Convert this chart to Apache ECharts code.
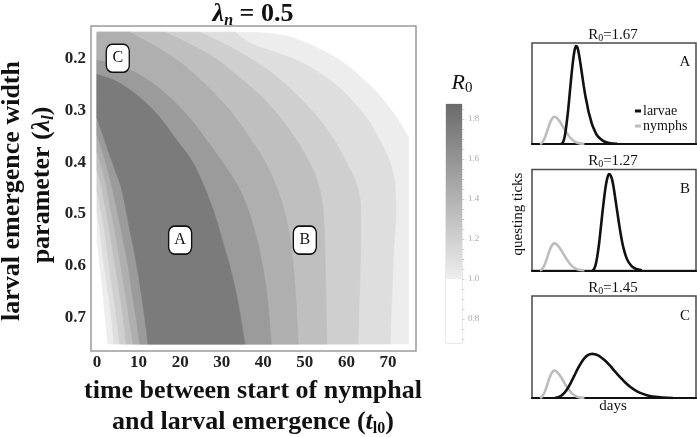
<!DOCTYPE html>
<html><head><meta charset="utf-8">
<script src="https://cdn.jsdelivr.net/npm/echarts@6/dist/echarts.min.js"></script>
<style>html,body{margin:0;padding:0;background:#fff}#c{width:697px;height:437px}</style>
</head><body><div id="c"></div>
<script>
// ---------------- data ----------------
const xTickValues = [0, 10, 20, 30, 40, 50, 60, 70];
const yTickValues = [0.2, 0.3, 0.4, 0.5, 0.6, 0.7];
const contourLevels = [1.0, 1.1, 1.2, 1.3, 1.4, 1.5, 1.6];
// contour boundaries: [t_l0, lambda_l]
const right10 = [[38.5,0.15],[46.9,0.16],[57.3,0.198],[65.4,0.25],[71.0,0.302],[75,0.352]];
const left10  = [[0,0.55],[0.5,0.588],[1.2,0.637],[1.9,0.694],[2.6,0.75]];
const right11 = [[33.2,0.15],[37.3,0.173],[42.8,0.188],[48.6,0.206],[53.6,0.229],[58.2,0.256],[62.1,0.288],[65.4,0.321],[67.6,0.352],[69.5,0.381],[71.0,0.415],[71.7,0.446],[71.9,0.502],[71.4,0.569],[71.0,0.646],[70.5,0.75]];
const left11  = [[0,0.496],[0.7,0.531],[1.4,0.579],[2.4,0.637],[3.4,0.694],[4.1,0.75]];
const right12 = [[24.8,0.15],[30.8,0.173],[36.8,0.2],[42.8,0.233],[48.1,0.271],[52.7,0.31],[56.8,0.354],[59.7,0.396],[62.1,0.435],[63.3,0.473],[63.5,0.531],[63.3,0.608],[63.0,0.685],[62.8,0.75]];
const left12  = [[0,0.454],[0.7,0.483],[1.7,0.527],[2.6,0.579],[3.6,0.637],[4.6,0.694],[5.5,0.75]];
const right13 = [[16.4,0.15],[22.4,0.173],[28.4,0.2],[34.4,0.238],[40.5,0.281],[45.5,0.329],[49.5,0.377],[52.5,0.425],[54.1,0.473],[54.6,0.521],[54.9,0.588],[55.1,0.665],[55.3,0.75]];
const left13  = [[0,0.415],[1.0,0.444],[1.9,0.483],[2.9,0.527],[4.1,0.585],[5.3,0.646],[6.3,0.70],[7.0,0.75]];
const right14 = [[7.9,0.15],[14.0,0.177],[20.0,0.208],[26.0,0.25],[31.5,0.296],[36.3,0.348],[40.2,0.396],[43.0,0.444],[45.0,0.492],[46.5,0.55],[47.4,0.617],[48.0,0.685],[48.4,0.75]];
const left14  = [[0,0.381],[1.0,0.406],[2.2,0.444],[3.1,0.483],[4.3,0.531],[5.5,0.588],[6.7,0.646],[7.7,0.70],[8.7,0.75]];
const right15 = [[0,0.204],[4.3,0.212],[9.1,0.227],[14.0,0.252],[18.8,0.285],[23.1,0.323],[27.2,0.367],[31.2,0.412],[34.4,0.454],[36.8,0.502],[38.8,0.56],[40.4,0.627],[41.3,0.688],[41.9,0.75]];
const left15  = [[0,0.348],[1.2,0.377],[2.6,0.415],[3.8,0.454],[5.1,0.502],[6.3,0.55],[7.5,0.60],[8.4,0.65],[9.4,0.70],[10.3,0.75]];
const right16 = [[0,0.231],[5.5,0.248],[11.1,0.281],[15.2,0.315],[19.2,0.358],[22.4,0.392],[24.8,0.429],[26.7,0.465],[28.6,0.508],[30.5,0.56],[32.0,0.602],[33.8,0.665],[35.6,0.75]];
const left16  = [[0,0.315],[1.4,0.348],[3.1,0.387],[4.8,0.425],[6.0,0.454],[7.2,0.502],[8.4,0.55],[9.6,0.60],[10.6,0.65],[11.5,0.70],[12.3,0.75]];
const tRange = [0, 75];
const lambdaRange = [0.15, 0.75];

const boxT = [20, 50, 5];
const boxLambda = [0.55, 0.55, 0.2];
const boxLabels = ['A', 'B', 'C'];

const cbRange = [0.68, 1.875];
const cbThreshold = 1.0;
const cbTicks = [0.8, 1.0, 1.2, 1.4, 1.6, 1.8];
const cbMinorTicks = [0.7,0.75,0.8,0.85,0.9,0.95,1.0,1.05,1.1,1.15,1.2,1.25,1.3,1.35,1.4,1.45,1.5,1.55,1.6,1.65,1.7,1.75,1.8,1.85];

const panelR0 = [1.67, 1.27, 1.45];
const panelLetters = ['A', 'B', 'C'];
const nymphs  = [[4.9,0],[6,0.012],[7,0.035],[8,0.07],[9,0.115],[10,0.165],[11,0.21],[12,0.245],[13,0.265],[13.6,0.27],[14.5,0.266],[15.5,0.252],[16.5,0.232],[17.5,0.208],[18.5,0.182],[19.5,0.155],[20.5,0.128],[21.5,0.103],[22.5,0.08],[23.5,0.06],[24.5,0.043],[25.5,0.03],[27,0.016],[29,0.006],[32,0.001]];
const larvaeA = [[18,0],[19,0.02],[20,0.08],[21,0.19],[22,0.33],[23,0.5],[24,0.67],[25,0.82],[26,0.93],[26.8,0.97],[27.6,0.96],[28.5,0.9],[29.5,0.8],[30.5,0.69],[31.5,0.58],[32.5,0.48],[33.5,0.4],[34.5,0.32],[35.5,0.26],[36.5,0.2],[38,0.14],[39.5,0.09],[41.5,0.055],[44,0.025],[47,0.01],[52,0.002]];
const larvaeB = [[37,0],[38,0.02],[39,0.07],[40,0.16],[41,0.28],[42,0.43],[43,0.58],[44,0.72],[45,0.84],[46,0.92],[47,0.955],[48,0.94],[49,0.89],[50,0.8],[51,0.69],[52,0.58],[53,0.47],[54,0.37],[55,0.28],[56,0.21],[57.5,0.13],[59,0.08],[61,0.04],[63.5,0.015],[67,0.003]];
const larvaeC = [[14,0],[16,0.008],[18,0.025],[20,0.055],[22,0.1],[24,0.16],[26,0.225],[28,0.29],[30,0.345],[32,0.39],[34,0.42],[36,0.432],[37,0.433],[38,0.43],[40,0.42],[42,0.4],[44,0.375],[46,0.345],[48,0.31],[50,0.27],[52,0.235],[54,0.2],[56,0.165],[58,0.135],[60,0.108],[63,0.075],[66,0.05],[70,0.028],[75,0.012],[80,0.005],[86,0]];

// ---------------- drawing ----------------
const SERIF = "'Liberation Serif','DejaVu Serif',serif";
const bandColors = ['#ededed','#dedede','#cfcfcf','#bfbfbf','#afafaf','#9b9b9b','#7b7b7b'];
const rights = [right10,right11,right12,right13,right14,right15,right16];
const lefts  = [left10,left11,left12,left13,left14,left15,left16];

function crPath(pts, move) {
  let d = (move ? 'M' : 'L') + pts[0][0] + ' ' + pts[0][1];
  for (let i = 0; i < pts.length - 1; i++) {
    const p0 = pts[i - 1] || pts[i], p1 = pts[i], p2 = pts[i + 1], p3 = pts[i + 2] || p2;
    const c1x = p1[0] + (p2[0] - p0[0]) / 6, c1y = p1[1] + (p2[1] - p0[1]) / 6;
    const c2x = p2[0] - (p3[0] - p1[0]) / 6, c2y = p2[1] - (p3[1] - p1[1]) / 6;
    d += ' C' + c1x + ' ' + c1y + ' ' + c2x + ' ' + c2y + ' ' + p2[0] + ' ' + p2[1];
  }
  return d;
}
function regionPath(R, L, coord) {
  const Rp = R.map(coord);
  let d = crPath(Rp, true);
  const last = R[R.length - 1];
  if (last[1] < lambdaRange[1]) { const c = coord([tRange[1], lambdaRange[1]]); d += ' L' + c[0] + ' ' + c[1]; }
  if (L) d += ' ' + crPath(L.slice().reverse().map(coord), false);
  else { const c = coord([0, lambdaRange[1]]); d += ' L' + c[0] + ' ' + c[1]; }
  if (R[0][1] <= lambdaRange[0] + 1e-9 && R[0][0] > 0) { const c = coord([0, lambdaRange[0]]); d += ' L' + c[0] + ' ' + c[1]; }
  return d + ' Z';
}

const chart = echarts.init(document.getElementById('c'), null, {renderer: 'canvas'});
const panelTops = [43, 169.5, 296];
const panelHeights = [101, 101, 102];
const larvae = [larvaeA, larvaeB, larvaeC];

const grids = [
  {left: 91, top: 26, width: 325, height: 325, show: true, borderColor: '#9a9a9a', borderWidth: 1.5, backgroundColor: '#fff'},
  {left: 446, top: 104, width: 16, height: 239, show: true, borderColor: '#d4d4d4', borderWidth: 1, backgroundColor: '#fff'}
];
const xAxes = [
  {gridIndex: 0, type: 'value', min: -1.44, max: 76.74, axisLine: {show: false}, axisTick: {show: false}, splitLine: {show: false},
   axisLabel: {customValues: xTickValues, fontFamily: SERIF, fontWeight: 'bold', fontSize: 17, color: '#222', margin: 3}},
  {gridIndex: 1, type: 'value', min: 0, max: 1, show: false}
];
const yAxes = [
  {gridIndex: 0, type: 'value', inverse: true, min: 0.138, max: 0.7635, axisLine: {show: false}, axisTick: {show: false}, splitLine: {show: false},
   axisLabel: {customValues: yTickValues, formatter: v => v.toFixed(1), fontFamily: SERIF, fontWeight: 'bold', fontSize: 17, color: '#222', margin: 5}},
  {gridIndex: 1, type: 'value', position: 'right', min: cbRange[0], max: cbRange[1], axisLine: {show: false}, splitLine: {show: false},
   axisTick: {show: true, customValues: cbTicks, length: 4, lineStyle: {color: '#c8c8c8'}},
   axisLabel: {customValues: cbTicks, formatter: v => v.toFixed(1), fontFamily: SERIF, fontSize: 9, color: '#aaaaaa', margin: 6}},
  {gridIndex: 1, type: 'value', position: 'right', min: cbRange[0], max: cbRange[1], axisLine: {show: false}, splitLine: {show: false},
   axisTick: {show: true, customValues: cbMinorTicks, length: 2.5, lineStyle: {color: '#d0d0d0'}}, axisLabel: {show: false}}
];
for (let k = 0; k < 3; k++) {
  grids.push({left: 532, top: panelTops[k], width: 164, height: panelHeights[k], show: true, borderColor: '#4a4a4a', borderWidth: 1.5, backgroundColor: '#fff'});
  xAxes.push({gridIndex: 2 + k, type: 'value', min: 0, max: 100, axisLine: {show: true, onZero: false, lineStyle: {color: '#111', width: 2.2}},
    axisTick: {show: false}, axisLabel: {show: false}, splitLine: {show: false}});
  yAxes.push({gridIndex: 2 + k, type: 'value', min: 0, max: 1, show: false});
}

const series = [
  {type: 'custom', xAxisIndex: 0, yAxisIndex: 0, silent: true, clip: true, z: 1,
   data: contourLevels.map((lv, i) => [0, lambdaRange[0], lv]),
   renderItem: (params, api) => {
     const i = params.dataIndex;
     const d = regionPath(rights[i], lefts[i], p => api.coord(p));
     return {type: 'path', shape: {pathData: d}, style: {fill: bandColors[i], stroke: bandColors[i], lineWidth: 0.6}};
   }},
  {type: 'scatter', xAxisIndex: 0, yAxisIndex: 0, z: 5, silent: true,
   data: boxT.map((t, i) => [t, boxLambda[i]]),
   symbol: 'roundRect', symbolSize: [23, 28],
   itemStyle: {color: '#fff', borderColor: '#111', borderWidth: 1.5, opacity: 1},
   label: {show: true, position: 'inside', formatter: p => boxLabels[p.dataIndex], fontFamily: SERIF, fontSize: 16, color: '#111'}},
  {type: 'custom', xAxisIndex: 1, yAxisIndex: 1, silent: true, z: 1,
   data: [[0, cbRange[0]], [0, cbThreshold]],
   renderItem: (params, api) => {
     const lo = params.dataIndex === 0 ? cbRange[0] : cbThreshold;
     const hi = params.dataIndex === 0 ? cbThreshold : cbRange[1];
     const p0 = api.coord([0, hi]), p1 = api.coord([1, lo]);
     const fill = params.dataIndex === 0 ? '#ffffff' :
       new echarts.graphic.LinearGradient(0, 0, 0, 1, [{offset: 0, color: '#6b6b6b'}, {offset: 1, color: '#eeeeee'}]);
     return {type: 'rect', shape: {x: p0[0], y: p0[1], width: p1[0] - p0[0], height: p1[1] - p0[1]}, style: {fill}};
   }}
];
for (let k = 0; k < 3; k++) {
  series.push({type: 'line', name: 'nymphs', xAxisIndex: 2 + k, yAxisIndex: 3 + k, data: nymphs, smooth: 0.3,
    showSymbol: false, silent: true, lineStyle: {color: '#bdbdbd', width: 2.6}, itemStyle: {color: '#bdbdbd'}});
  series.push({type: 'line', name: 'larvae', xAxisIndex: 2 + k, yAxisIndex: 3 + k, data: larvae[k], smooth: 0.3,
    showSymbol: false, silent: true, lineStyle: {color: '#111', width: 2.6}, itemStyle: {color: '#111'}});
}

function txt(x, y, text, rich, extra) {
  return Object.assign({type: 'text', x, y, silent: true,
    style: {text, rich, fill: '#111', align: 'center', verticalAlign: 'middle', fontFamily: SERIF}}, extra || {});
}
const B = {fontFamily: SERIF, fontWeight: 'bold', fontSize: 26, lineHeight: 30, fill: '#111', verticalAlign: 'middle'};
const graphics = [
  txt(253, 14, '{g|λ}{s|n}{m| = 0.5}', {
    g: Object.assign({}, B, {fontSize: 26, fontStyle: 'italic'}),
    s: {fontFamily: SERIF, fontWeight: 'bold', fontStyle: 'italic', fontSize: 16, lineHeight: 11, verticalAlign: 'bottom', fill: '#111'},
    m: Object.assign({}, B, {fontSize: 26})}),
  txt(253, 391, '{m|time between start of nymphal}', {m: B}),
  txt(253, 422, '{m|and larval emergence (}{i|t}{s|l0}{m|)}', {
    m: B, i: Object.assign({}, B, {fontStyle: 'italic'}),
    s: {fontFamily: SERIF, fontWeight: 'bold', fontSize: 16, lineHeight: 10, verticalAlign: 'bottom', fill: '#111'}}),
  txt(12, 191, '{m|larval emergence width}', {m: B}, {rotation: Math.PI / 2}),
  txt(42, 185, '{m|parameter (}{i|λ}{s|l}{m|)}', {
    m: B, i: Object.assign({}, B, {fontStyle: 'italic'}),
    s: {fontFamily: SERIF, fontWeight: 'bold', fontStyle: 'italic', fontSize: 16, lineHeight: 10, verticalAlign: 'bottom', fill: '#111'}},
    {rotation: Math.PI / 2}),
  txt(462, 83, '{r|R}{s|0}', {
    r: {fontFamily: SERIF, fontStyle: 'italic', fontSize: 22, lineHeight: 26, verticalAlign: 'middle', fill: '#111'},
    s: {fontFamily: SERIF, fontSize: 15, lineHeight: 12, verticalAlign: 'bottom', fill: '#111'}}),
  txt(518, 214, 'questing ticks', null, {rotation: Math.PI / 2, style: {text: 'questing ticks', fill: '#111', align: 'center', verticalAlign: 'middle', fontFamily: SERIF, fontSize: 15}}),
  txt(613, 406, 'days', null, {style: {text: 'days', fill: '#111', align: 'center', verticalAlign: 'middle', fontFamily: SERIF, fontSize: 15}})
];
const titleY = [35, 161, 288];
const letterY = [62.5, 189.5, 316.5];
for (let k = 0; k < 3; k++) {
  graphics.push(txt(613, titleY[k], '{m|R}{s|0}{m|=' + panelR0[k].toFixed(2) + '}', {
    m: {fontFamily: SERIF, fontSize: 15, lineHeight: 17, verticalAlign: 'middle', fill: '#111'},
    s: {fontFamily: SERIF, fontSize: 10, lineHeight: 8, verticalAlign: 'bottom', fill: '#111'}}));
  graphics.push(txt(685, letterY[k], panelLetters[k], null, {style: {text: panelLetters[k], fill: '#111', align: 'center', verticalAlign: 'middle', fontFamily: SERIF, fontSize: 15}}));
}

chart.setOption({
  animation: false,
  backgroundColor: '#fff',
  grid: grids, xAxis: xAxes, yAxis: yAxes, series,
  legend: {data: [{name: 'larvae', icon: 'rect'}, {name: 'nymphs', icon: 'rect'}], left: 635, top: 104, orient: 'vertical',
    itemWidth: 6, itemHeight: 3, itemGap: 1, selectedMode: false, padding: 0,
    textStyle: {fontFamily: SERIF, fontSize: 14, color: '#111', padding: [0, 0, 0, -3]}},
  graphic: graphics
});
</script></body></html>
